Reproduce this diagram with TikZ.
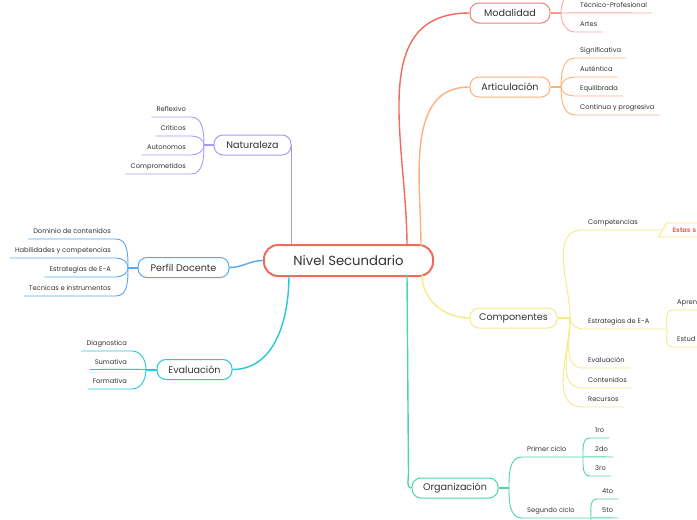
\documentclass[tikz,border=0pt]{standalone}
\usepackage{fontspec}
\setmainfont{Poppins}
\usetikzlibrary{shapes.geometric}
\definecolor{ink}{HTML}{333333}
\definecolor{rosso}{HTML}{F06A5F}
\definecolor{naranja}{HTML}{FFB07A}
\definecolor{viola}{HTML}{A59CF7}
\definecolor{azul}{HTML}{55A8F4}
\definecolor{ciano}{HTML}{25C7DB}
\definecolor{giallo}{HTML}{F7EA85}
\definecolor{verde}{HTML}{50D6A2}
\tikzset{every node/.style={text=ink},
    root/.style={draw=rosso, line width=2pt, rounded corners=14pt,
        minimum width=169pt, minimum height=31pt, fill=white,
        font=\fontsize{13.2}{15}\selectfont},
    topic/.style={draw, line width=1pt, rounded corners=9pt,
        minimum height=20pt, fill=white, font=\fontsize{9.6}{11}\selectfont},
    leafR/.style={anchor=south west, inner xsep=5pt, inner ysep=0pt,
        text height=5.5pt, text depth=5.2pt, font=\fontsize{6.7}{8}\selectfont},
    leafL/.style={leafR, anchor=south east},
    link/.style={line width=1.4pt},
    stub/.style={line width=2pt},
    twig/.style={line width=0.9pt},
    nota/.style={trapezium, trapezium left angle=60, trapezium right angle=90,
        draw=giallo, line width=0.9pt, minimum height=14pt, text width=40pt,
        inner xsep=1pt, font=\fontsize{6.5}{7}\selectfont\bfseries},
    }

\begin{document}
\begin{tikzpicture}[x=1pt,y=-1pt]
\useasboundingbox[fill=white] (0,0) rectangle (697,520);

\node[root] (nivel) at (348.5,260.5) {Nivel Secundario};

\node[topic,draw=rosso!85,minimum width=80pt] (moda) at (510,13) {Modalidad};
\node[topic,draw=naranja,minimum width=80pt] (arti) at (510,87) {Articulación};
\node[topic,draw=viola,minimum width=77pt] (natu) at (252.5,145) {Naturaleza};
\node[topic,draw=azul,minimum width=91pt] (perf) at (183.5,267.5) {Perfil Docente};
\node[topic,draw=ciano,minimum width=75pt] (eval) at (194.5,369.5) {Evaluación};
\node[topic,draw=giallo,minimum width=87pt] (comp) at (513.5,318) {Componentes};
\node[topic,draw=verde,minimum width=86pt] (orga) at (455,488) {Organización};

% main branches
\coordinate (nM) at (407,246);
\coordinate (nA) at (421,246);
\coordinate (nE) at (289,275);
\coordinate (nC) at (422,275);
\coordinate (nO) at (407,275);
\coordinate (nO2) at (408.5,474);
\draw[link,rosso] (nM) to[out=90,in=180,looseness=1.1] (moda.west);
\draw[link,naranja] (nA) to[out=90,in=180] (arti.west);
\draw[link,viola] (natu.east) -- (natu.east |- nivel.north);
\draw[link,azul] (perf.east) to[out=0,in=180] (nivel.west);
\draw[link,ciano] (eval.east) to[out=0,in=-90] (nE);
\draw[link,giallo] (nC) to[out=-90,in=180] (comp.west);
\draw[link,verde] (nO) -- (nO2) to[out=-90,in=180] (orga.west);

% Modalidad
\coordinate (jM) at (561,13);
\coordinate (m0) at (575,-8);
\node[leafR] (m1) at (575,13) {Técnico-Profesional};
\node[leafR] (m2) at (575,32) {Artes};
\draw[stub,rosso!70] (moda.east) -- (jM);
\draw[twig,rosso!55] (jM) to[out=90,in=180] (m0);
\draw[twig,rosso!55] (jM) to[out=0,in=180] ([yshift=0.2pt]m1.south west) -- (m1.south east);
\draw[twig,rosso!55] (jM) to[out=-90,in=180] (m2.south west) -- (m2.south east);

% Articulacion
\coordinate (jA) at (561,87);
\node[leafR] (a1) at (575,58) {Significativa};
\node[leafR] (a2) at (575,77) {Auténtica};
\node[leafR] (a3) at (575,96) {Equilibrada};
\node[leafR] (a4) at (575,115) {Continua y progresiva};
\draw[stub,naranja] (arti.east) -- (jA);
\foreach \i/\o in {1/90,2/90,3/-90,4/-90}
    \draw[twig,naranja] (jA) to[out=\o,in=180] (a\i.south west) -- (a\i.south east);

% Naturaleza
\coordinate (jN) at (204,145);
\node[leafL] (n1) at (191,117) {Reflexivo};
\node[leafL] (n2) at (191,136) {Críticos};
\node[leafL] (n3) at (191,155) {Autonomos};
\node[leafL] (n4) at (191,174) {Comprometidos};
\draw[stub,viola] (natu.west) -- (jN);
\foreach \i/\o in {1/90,2/90,3/-90,4/-90}
    \draw[twig,viola] (jN) to[out=\o,in=0] (n\i.south east) -- (n\i.south west);

% Perfil Docente
\coordinate (jP) at (128,267.5);
\node[leafL] (p1) at (116,239) {Dominio de contenidos};
\node[leafL] (p2) at (116,258) {Habilidades y competencias};
\node[leafL] (p3) at (116,277) {Estrategias de E-A};
\node[leafL] (p4) at (116,296) {Tecnicas e instrumentos};
\draw[stub,azul] (perf.west) -- (jP);
\foreach \i/\o in {1/90,2/90,3/-90,4/-90}
    \draw[twig,azul] (jP) to[out=\o,in=0] (p\i.south east) -- (p\i.south west);

% Evaluacion
\coordinate (jE) at (146,369.5);
\node[leafL] (e1) at (132,351) {Diagnostica};
\node[leafL] (e2) at (132,369.5) {Sumativa};
\node[leafL] (e3) at (132,389) {Formativa};
\draw[stub,ciano] (eval.west) -- (jE);
\draw[twig,ciano] (jE) to[out=90,in=0] (e1.south east) -- (e1.south west);
\draw[twig,ciano] (jE) to[out=180,in=0] ([yshift=0.2pt]e2.south east) -- (e2.south west);
\draw[twig,ciano] (jE) to[out=-90,in=0] (e3.south east) -- (e3.south west);

% Componentes
\coordinate (jC) at (570,318);
\coordinate (jS) at (667,329);
\node[leafR] (k1) at (583,230) {Competencias};
\node[leafR] (k2) at (583,329) {Estrategias de E-A};
\node[leafR] (k3) at (583,368) {Evaluación};
\node[leafR] (k4) at (583,388) {Contenidos};
\node[leafR] (k5) at (583,407) {Recursos};
\node[nota,anchor=west] (estas) at (662,230) {\textcolor{rosso}{Estas s}};
\node[leafR] (s1) at (672,310) {Apren};
\node[leafR] (s2) at (672,347) {Estud};
\draw[stub,giallo] (comp.east) -- (jC);
\draw[twig,giallo] (jC) to[out=90,in=180] (k1.south west) -- (estas.west);
\draw[twig,giallo] (jC) to[out=-90,in=180] (k2.south west) -- (jS);
\foreach \i in {3,4,5}
    \draw[twig,giallo] (jC) to[out=-90,in=180] (k\i.south west) -- (k\i.south east);
\draw[twig,giallo] (jS) to[out=90,in=180] (s1.south west) -- (s1.south east);
\draw[twig,giallo] (jS) to[out=-90,in=180] (s2.south west) -- (s2.south east);

% Organizacion
\coordinate (jO) at (509,488);
\coordinate (jO1) at (583,457);
\coordinate (jO2) at (591,518);
\coordinate (r0) at (597,537);
\node[leafR] (o1) at (522,457) {Primer ciclo};
\node[leafR] (o2) at (522,518) {Segundo ciclo};
\node[leafR] (q1) at (590,438) {1ro};
\node[leafR] (q2) at (590,457) {2do};
\node[leafR] (q3) at (590,476) {3ro};
\node[leafR] (r1) at (597,499) {4to};
\node[leafR] (r2) at (597,518) {5to};
\draw[stub,verde] (orga.east) -- (jO);
\draw[twig,verde] (jO) to[out=90,in=180] (o1.south west) -- (jO1);
\draw[twig,verde] (jO) to[out=-90,in=180] (o2.south west) -- (jO2);
\draw[twig,verde] (jO1) to[out=90,in=180] (q1.south west) -- (q1.south east);
\draw[twig,verde] (jO1) to[out=0,in=180] ([yshift=0.2pt]q2.south west) -- (q2.south east);
\draw[twig,verde] (jO1) to[out=-90,in=180] (q3.south west) -- (q3.south east);
\draw[twig,verde] (jO2) to[out=90,in=180] (r1.south west) -- (r1.south east);
\draw[twig,verde] (jO2) to[out=0,in=180] ([yshift=0.2pt]r2.south west) -- (r2.south east);
\draw[twig,verde] (jO2) to[out=-90,in=180] (r0);
\end{tikzpicture}
\end{document}
